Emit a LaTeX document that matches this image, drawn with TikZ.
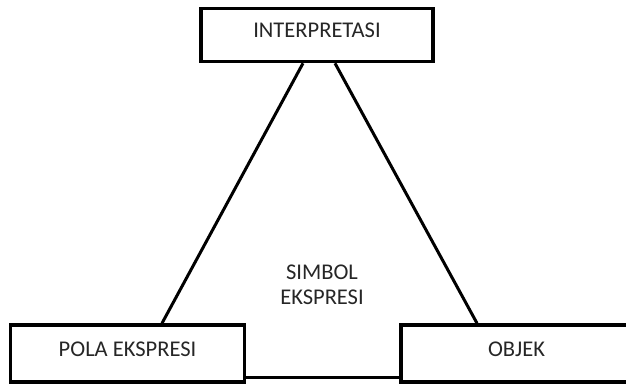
\documentclass[tikz,border=0pt]{standalone}
\usepackage{fontspec}
\setmainfont{Carlito}
\begin{document}
\begin{tikzpicture}[x=1bp,y=-1bp,
  lbl/.style={font=\fontsize{22.5bp}{25bp}\selectfont, text=black!85},
  termbox/.style={draw=black, line width=3.5bp, fill=white, rectangle,
    inner sep=0pt, lbl, text height=16bp, text depth=11bp},
  edge/.style={draw=black, line width=3bp}]
  \useasboundingbox (0,0) rectangle (626,383);
  \clip (0,0) rectangle (626,383);

  % the three terms
  \node[termbox, minimum width=232bp, minimum height=53bp] (interp) at (317,35) {INTERPRETASI};
  \node[termbox, minimum width=234bp, minimum height=57bp] (pola) at (127.5,353.5) {POLA EKSPRESI};
  \node[termbox, minimum width=234bp, minimum height=57bp, text width=232bp, align=left] (objek) at (518,353.5) {\hspace*{86bp}OBJEK};

  % attachment points of the sides
  \coordinate (iL) at ([xshift=-14bp]interp.south);
  \coordinate (iR) at ([xshift=18bp]interp.south);
  \coordinate (pT) at ([xshift=34.5bp]pola.north);
  \coordinate (oT) at ([xshift=-41bp]objek.north);

  % sides of the triangle
  \draw[edge] (iL) -- (pT);
  \draw[edge] (iR) -- (oT);
  \draw[edge] ([yshift=-23.5bp]pola.east) -- ([yshift=-23.5bp]objek.west);

  % centre label
  \node[lbl, align=center] (simbol) at (322,285) {SIMBOL\\EKSPRESI};
\end{tikzpicture}
\end{document}
